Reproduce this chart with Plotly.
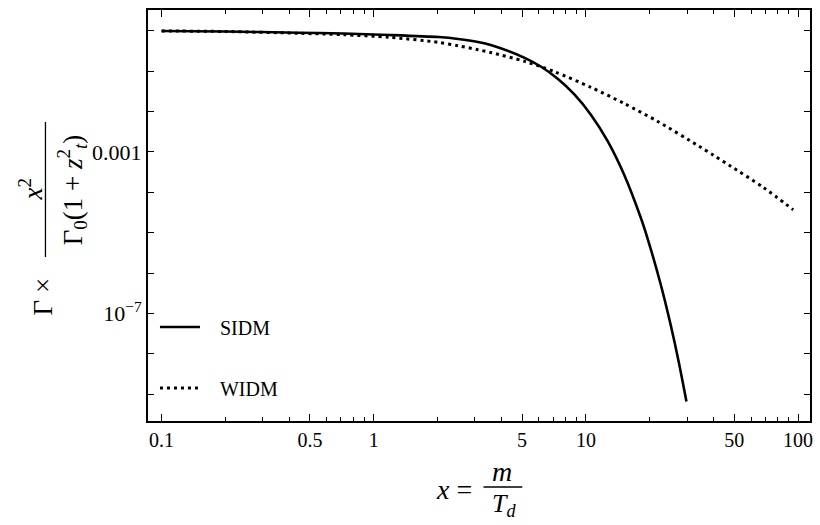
import plotly.graph_objects as go

# ---- data ----
x_sidm = [0.1, 0.2, 0.44, 0.72, 1.18, 2.02, 2.5, 3.1, 3.59, 5.14, 6.15, 7.36, 8.82,
          10.55, 12.64, 15.14, 18.12, 19.46, 22.47, 25.03, 27.41, 29.76]
y_sidm = [0.984, 0.955, 0.89, 0.851, 0.785, 0.695, 0.624, 0.526, 0.435, 0.213, 0.128,
          0.0646, 0.0265, 8.34e-3, 1.87e-3, 2.72e-4, 2.38e-5, 7.6e-6, 5.46e-7, 5.48e-8,
          6.12e-9, 6.67e-10]

x_widm = [0.1, 0.2, 0.44, 0.72, 1.18, 2.02, 2.5, 3.1, 3.59, 5.14, 7.11, 10.55, 15.14,
          21.7, 34.0, 40.0, 47.9, 68.6, 94.8]
y_widm = [0.984, 0.955, 0.863, 0.794, 0.687, 0.513, 0.422, 0.339, 0.285, 0.174, 0.0966,
          0.0398, 0.0158, 5.75e-3, 1.40e-3, 8.2e-4, 4.5e-4, 1.32e-4, 3.7e-5]

x_major = [0.1, 0.5, 1, 5, 10, 50, 100]
x_major_text = ["0.1", "0.5", "1", "5", "10", "50", "100"]
x_minor = [0.2, 0.3, 0.4, 0.6, 0.7, 0.8, 0.9, 2, 3, 4, 6, 7, 8, 9, 20, 30, 40, 60, 70, 80, 90]
y_ticks = [1e-9, 1e-8, 1e-7, 1e-6, 1e-5, 1e-4, 1e-3, 1e-2, 1e-1, 1]
y_ticktext = ["", "", "10<sup>−7</sup>", "", "", "", "0.001", "", "", ""]

FONT = "Liberation Serif"
NB = "\u00a0\u00a0\u00a0"

fig = go.Figure()
fig.add_trace(go.Scatter(x=x_sidm, y=y_sidm, mode="lines", name=NB + "SIDM",
                         line=dict(color="black", width=2.6, shape="spline", smoothing=0.8),
                         legend="legend"))
fig.add_trace(go.Scatter(x=x_widm, y=y_widm, mode="lines", name=NB + "WIDM",
                         line=dict(color="black", width=3, dash="3px,4px", shape="spline", smoothing=0.8),
                         legend="legend2"))

L, R, T, B = 148, 813, 10, 421
W, H = R - L, B - T
def px(x): return (x - L) / W
def py(y): return (B - y) / H

fig.update_layout(
    width=820, height=525,
    margin=dict(l=L, r=820 - R, t=T, b=525 - B),
    paper_bgcolor="white", plot_bgcolor="white",
    font=dict(family=FONT, color="black", size=20),
    xaxis=dict(type="log", range=[-1.064, 2.056], showgrid=False, zeroline=False,
               showline=True, linecolor="black", linewidth=2, mirror="allticks",
               ticks="inside", ticklen=7, tickwidth=1.2, tickcolor="black",
               tickmode="array", tickvals=x_major, ticktext=x_major_text,
               tickfont=dict(family=FONT, size=20),
               minor=dict(tickmode="array", tickvals=x_minor, ticks="inside",
                          ticklen=4, tickwidth=1.2, tickcolor="black", showgrid=False)),
    yaxis=dict(type="log", range=[-9.66, 0.512], showgrid=False, zeroline=False,
               showline=True, linecolor="black", linewidth=2, mirror="allticks",
               ticks="inside", ticklen=6, tickwidth=1.2, tickcolor="black",
               tickmode="array", tickvals=y_ticks, ticktext=y_ticktext,
               tickfont=dict(family=FONT, size=22)),
    legend=dict(x=px(155), y=py(327), xanchor="left", yanchor="middle",
                bgcolor="rgba(0,0,0,0)", font=dict(family=FONT, size=20), itemwidth=40),
    legend2=dict(x=px(155), y=py(388), xanchor="left", yanchor="middle",
                 bgcolor="rgba(0,0,0,0)", font=dict(family=FONT, size=20), itemwidth=40),
    showlegend=True,
)

ann = []
# y-axis title pieces (rotated)
ann.append(dict(text="Γ ×", x=px(43), y=py(296), xref="paper", yref="paper",
                showarrow=False, textangle=-90, font=dict(family=FONT, size=27),
                xanchor="center", yanchor="middle"))
ann.append(dict(text="<i>x</i><sup>2</sup>", x=px(30), y=py(190), xref="paper", yref="paper",
                showarrow=False, textangle=-90, font=dict(family=FONT, size=27),
                xanchor="center", yanchor="middle"))
ann.append(dict(text="Γ<sub>0</sub>(1 + <i>z</i><sup>2</sup><sub><i>t</i></sub>)", x=px(72), y=py(190),
                xref="paper", yref="paper", showarrow=False, textangle=-90,
                font=dict(family=FONT, size=27), xanchor="center", yanchor="middle"))
# x-axis title pieces
ann.append(dict(text="<i>x</i> =", x=px(455), y=py(490), xref="paper", yref="paper",
                showarrow=False, font=dict(family=FONT, size=28),
                xanchor="center", yanchor="middle"))
ann.append(dict(text="<i>m</i>", x=px(504), y=py(471), xref="paper", yref="paper",
                showarrow=False, font=dict(family=FONT, size=28),
                xanchor="center", yanchor="middle"))
ann.append(dict(text="<i>T</i><sub><i>d</i></sub>", x=px(506), y=py(505), xref="paper", yref="paper",
                showarrow=False, font=dict(family=FONT, size=26),
                xanchor="center", yanchor="middle"))
fig.update_layout(annotations=ann)

fig.add_shape(type="line", xref="paper", yref="paper",
              x0=px(45), x1=px(45), y0=py(257), y1=py(122),
              line=dict(color="black", width=1.3))
fig.add_shape(type="line", xref="paper", yref="paper",
              x0=px(485), x1=px(524), y0=py(487), y1=py(487),
              line=dict(color="black", width=1.3))

fig.write_html("out.html", config={"displayModeBar": False},
               post_script="document.body.style.margin='0';document.body.style.overflow='hidden';")
